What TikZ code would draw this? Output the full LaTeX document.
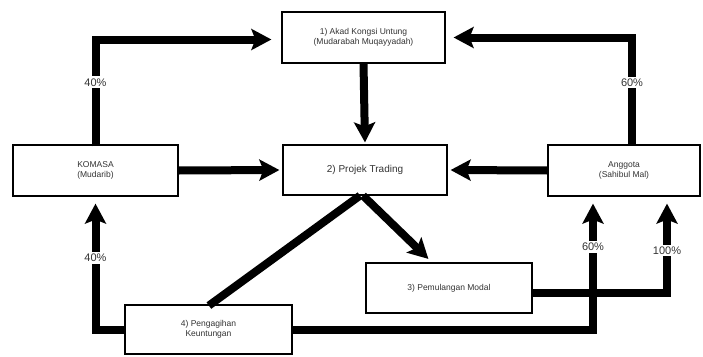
\documentclass[tikz,border=0pt]{standalone}
\usepackage{fontspec}
\setmainfont{Liberation Sans}
\usetikzlibrary{arrows.meta}
\tikzset{
  box/.style={draw, line width=1.2pt, fill=white, align=center, inner sep=0pt,
    font=\fontsize{8.5}{10.5}\selectfont, text=black!80},
  flow/.style={line width=8pt, -{Stealth[length=20pt,width=21pt,inset=4pt]}},
  bar/.style={line width=8pt},
  pct/.style={fill=white, inner sep=2pt, font=\fontsize{11}{13}\selectfont, text=black!80}
}
\begin{document}
\begin{tikzpicture}[x=1pt,y=-1pt]
    \useasboundingbox (0,0) rectangle (703,356);
    \node[box, minimum width=163pt, minimum height=51pt] (akad) at (363.5,37.5) {1) Akad Kongsi Untung\\(Mudarabah Muqayyadah)};
    \node[box, minimum width=164pt, minimum height=50pt, font=\fontsize{10}{12}\selectfont] (trading) at (365,170) {2) Projek Trading};
    \node[box, minimum width=165pt, minimum height=51pt] (komasa) at (95.5,170.5) {KOMASA\\(Mudarib)};
    \node[box, minimum width=152pt, minimum height=51pt] (anggota) at (624,170.5) {Anggota\\(Sahibul Mal)};
    \node[box, minimum width=166pt, minimum height=50pt] (modal) at (449,288) {3) Pemulangan Modal};
    \node[box, minimum width=167pt, minimum height=49pt] (bagi) at (208.5,329.5) {4) Pengagihan\\Keuntungan};
    % modal ke anggota (dilukis dulu, 60% melintas di atas)
    \draw[flow, shorten >=7pt] ([yshift=-5pt]modal.east) -| ([xshift=43pt]anggota.south) node[pct, pos=0.72] {100\%};
    \draw[flow, shorten >=7pt] (bagi.east) -| ([xshift=-31pt]anggota.south) node[pct, pos=0.81] {60\%};
    \draw[flow, shorten >=7pt] (bagi.west) -| (komasa.south) node[pct, pos=0.77] {40\%};
    \draw[flow, shorten >=10pt] ([yshift=-2pt]komasa.north) |- ([yshift=-2pt]akad.west) node[pct, pos=0.3] {40\%};
    \draw[flow, shorten >=8pt] ([xshift=8pt]anggota.north) |- (akad.east) node[pct, pos=0.29] {60\%};
    \draw[flow, shorten >=2pt] (akad.south) -- (trading.north);
    \draw[flow, shorten >=3pt] (komasa.east) -- (trading.west);
    \draw[flow, shorten >=3pt] (anggota.west) -- (trading.east);
    \draw[flow, shorten >=5pt] ([xshift=-2pt]trading.south) -- ([xshift=-17pt]modal.north);
    \draw[bar, shorten >=-2pt] ([xshift=-5pt]trading.south) -- ([xshift=2pt]bagi.north);
\end{tikzpicture}
\end{document}
